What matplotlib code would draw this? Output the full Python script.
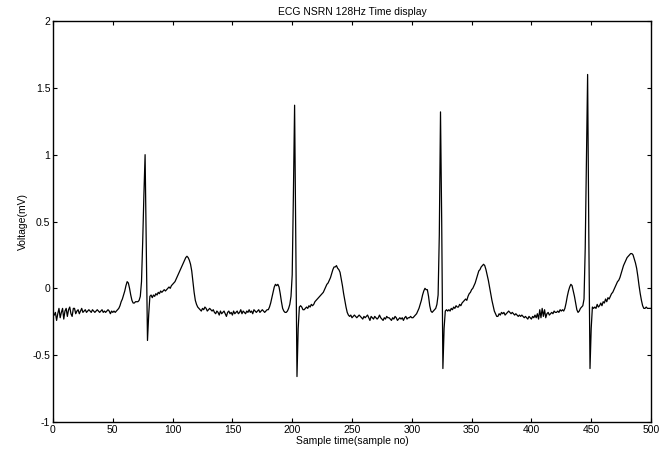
import matplotlib
matplotlib.use("Agg")
import matplotlib.pyplot as plt
import numpy as np

plt.rcParams['font.family'] = ['Liberation Sans', 'DejaVu Sans']

title = "ECG NSRN 128Hz Time display"
xlabel = "Sample time(sample no)"
ylabel = "Voltage(mV)"
xticks = [0, 50, 100, 150, 200, 250, 300, 350, 400, 450, 500]
yticks = [-1, -0.5, 0, 0.5, 1, 1.5, 2]
ytick_labels = ["-1", "-0.5", "0", "0.5", "1", "1.5", "2"]

sample_no = list(range(1, 501))
voltage = [
    -0.20, -0.18, -0.24, -0.19, -0.15, -0.22, -0.18, -0.15, -0.23, -0.17,
    -0.15, -0.21, -0.16, -0.14, -0.19, -0.21, -0.15, -0.15, -0.19, -0.17,
    -0.16, -0.19, -0.17, -0.15, -0.18, -0.17, -0.16, -0.18, -0.17, -0.16,
    -0.17, -0.18, -0.16, -0.17, -0.18, -0.17, -0.16, -0.17, -0.18, -0.17,
    -0.16, -0.18, -0.17, -0.18, -0.17, -0.16, -0.17, -0.19, -0.17, -0.18,
    -0.17, -0.18, -0.17, -0.16, -0.15, -0.13, -0.10, -0.08, -0.05, -0.02,
    0.02, 0.05, 0.04, 0.00, -0.05, -0.09, -0.11, -0.11, -0.10, -0.10,
    -0.10, -0.09, -0.06, 0.05, 0.35, 0.70, 1.00, 0.30, -0.39, -0.20,
    -0.06, -0.05, -0.07, -0.05, -0.06, -0.04, -0.05, -0.03, -0.04, -0.02,
    -0.03, -0.02, -0.01, -0.02, -0.01, 0.00, 0.01, 0.00, 0.02, 0.03,
    0.04, 0.05, 0.07, 0.09, 0.11, 0.13, 0.15, 0.17, 0.19, 0.21,
    0.23, 0.24, 0.23, 0.21, 0.18, 0.13, 0.05, -0.03, -0.09, -0.12,
    -0.14, -0.15, -0.16, -0.17, -0.15, -0.16, -0.14, -0.15, -0.17, -0.16,
    -0.15, -0.16, -0.17, -0.16, -0.18, -0.19, -0.17, -0.18, -0.20, -0.17,
    -0.19, -0.18, -0.17, -0.19, -0.21, -0.18, -0.17, -0.19, -0.18, -0.20,
    -0.17, -0.19, -0.18, -0.17, -0.19, -0.18, -0.16, -0.19, -0.17, -0.18,
    -0.19, -0.17, -0.18, -0.16, -0.18, -0.17, -0.19, -0.16, -0.17, -0.18,
    -0.17, -0.16, -0.18, -0.17, -0.16, -0.17, -0.18, -0.17, -0.16, -0.16,
    -0.14, -0.11, -0.07, -0.03, 0.01, 0.03, 0.02, 0.03, 0.01, -0.04,
    -0.10, -0.15, -0.17, -0.18, -0.18, -0.17, -0.15, -0.12, -0.06, 0.10,
    0.70, 1.37, 0.35, -0.66, -0.30, -0.14, -0.13, -0.14, -0.16, -0.16,
    -0.15, -0.14, -0.15, -0.13, -0.14, -0.12, -0.13, -0.12, -0.10, -0.09,
    -0.08, -0.07, -0.06, -0.05, -0.04, -0.03, -0.01, 0.01, 0.03, 0.04,
    0.06, 0.08, 0.11, 0.14, 0.16, 0.16, 0.17, 0.15, 0.14, 0.12,
    0.07, 0.02, -0.04, -0.09, -0.14, -0.18, -0.20, -0.21, -0.20, -0.22,
    -0.21, -0.20, -0.21, -0.22, -0.21, -0.20, -0.21, -0.22, -0.23, -0.21,
    -0.22, -0.21, -0.20, -0.22, -0.24, -0.21, -0.22, -0.23, -0.21, -0.22,
    -0.23, -0.22, -0.20, -0.22, -0.23, -0.24, -0.22, -0.23, -0.21, -0.22,
    -0.22, -0.23, -0.24, -0.22, -0.23, -0.21, -0.22, -0.24, -0.23, -0.22,
    -0.23, -0.22, -0.24, -0.22, -0.21, -0.23, -0.22, -0.22, -0.21, -0.22,
    -0.22, -0.21, -0.20, -0.19, -0.17, -0.15, -0.12, -0.09, -0.05, -0.02,
    0.00, -0.01, -0.01, -0.06, -0.13, -0.17, -0.18, -0.17, -0.16, -0.15,
    -0.12, -0.05, 0.40, 1.32, 0.50, -0.60, -0.30, -0.17, -0.16, -0.17,
    -0.16, -0.17, -0.15, -0.16, -0.14, -0.15, -0.13, -0.14, -0.14, -0.12,
    -0.13, -0.11, -0.10, -0.09, -0.08, -0.09, -0.06, -0.04, -0.03, -0.01,
    0.00, 0.02, 0.04, 0.07, 0.10, 0.13, 0.14, 0.16, 0.17, 0.18,
    0.17, 0.14, 0.10, 0.06, 0.01, -0.04, -0.09, -0.13, -0.17, -0.19,
    -0.21, -0.21, -0.19, -0.20, -0.18, -0.19, -0.18, -0.20, -0.19, -0.18,
    -0.17, -0.18, -0.19, -0.18, -0.19, -0.20, -0.19, -0.20, -0.21, -0.20,
    -0.21, -0.20, -0.21, -0.22, -0.21, -0.22, -0.23, -0.21, -0.22, -0.23,
    -0.21, -0.22, -0.20, -0.22, -0.19, -0.23, -0.16, -0.22, -0.15, -0.21,
    -0.16, -0.22, -0.19, -0.18, -0.20, -0.19, -0.18, -0.19, -0.17, -0.18,
    -0.18, -0.17, -0.18, -0.16, -0.17, -0.16, -0.17, -0.15, -0.11, -0.06,
    -0.02, 0.01, 0.03, 0.02, -0.02, -0.06, -0.11, -0.16, -0.18, -0.17,
    -0.15, -0.14, -0.13, -0.08, 0.30, 0.95, 1.60, 0.40, -0.60, -0.30,
    -0.14, -0.15, -0.14, -0.15, -0.12, -0.14, -0.13, -0.11, -0.13, -0.10,
    -0.11, -0.08, -0.10, -0.07, -0.08, -0.06, -0.04, -0.03, -0.01, 0.01,
    0.03, 0.05, 0.06, 0.08, 0.11, 0.14, 0.17, 0.19, 0.21, 0.23,
    0.24, 0.25, 0.26, 0.26, 0.25, 0.22, 0.19, 0.15, 0.09, 0.02,
    -0.04, -0.09, -0.13, -0.15, -0.15, -0.14, -0.15, -0.15, -0.15, -0.15,
]

fig = plt.figure(figsize=(6.68, 4.5), dpi=100)
ax = fig.add_axes([53/668, 28/450, 598/668, 401/450])
ax.plot(sample_no, voltage, color='black', linewidth=0.9)
ax.set_xlim(0, 500)
ax.set_ylim(-1, 2)
ax.set_xticks(xticks)
ax.set_yticks(yticks)
ax.set_yticklabels(ytick_labels)
ax.tick_params(direction='in', top=True, right=True, length=3, width=0.8,
               labelsize=7.5, pad=2)
for s in ax.spines.values():
    s.set_linewidth(1.0)
ax.set_title(title, fontsize=7.5, pad=4)
ax.set_xlabel(xlabel, fontsize=7.5, labelpad=1)
ax.set_ylabel(ylabel, fontsize=7.5, labelpad=3)
fig.savefig("out.png", dpi=100)
